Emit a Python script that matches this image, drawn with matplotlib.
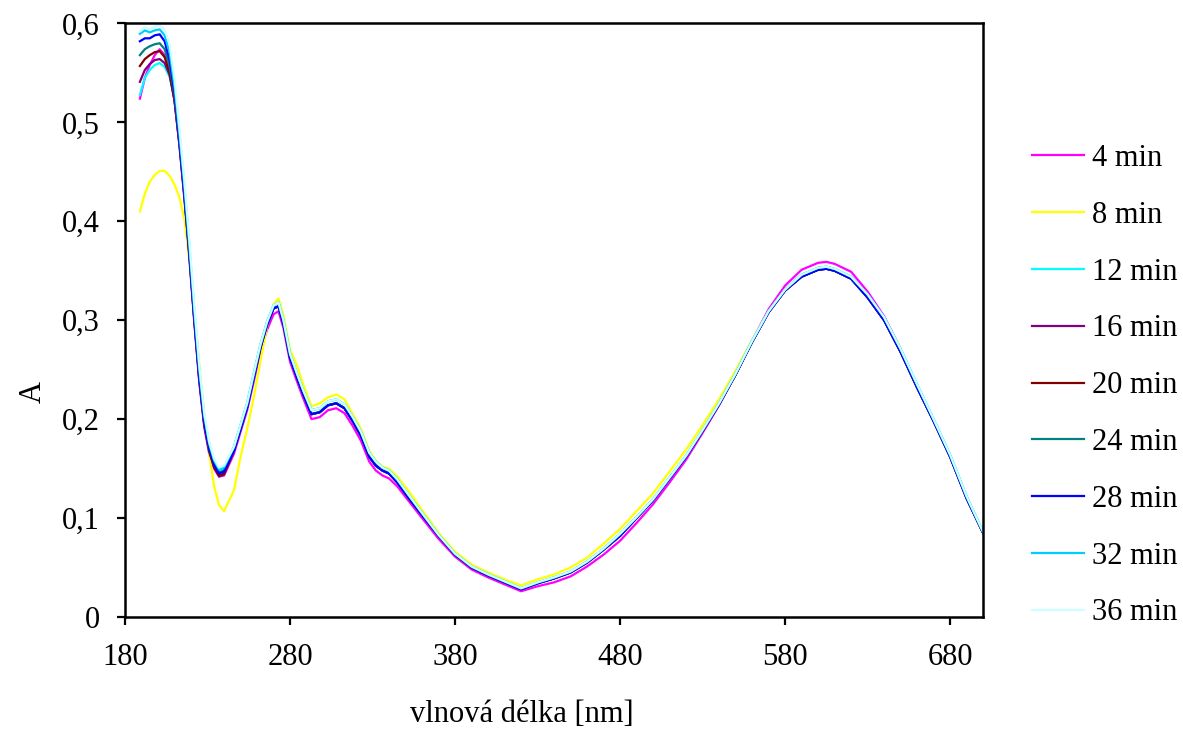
import matplotlib
matplotlib.use("Agg")
import matplotlib.pyplot as plt

plt.rcParams['font.family'] = ['Liberation Serif', 'DejaVu Serif']

# wavelength grid (nm): UV head where the series split, then the common tail
wl_head = [189, 192, 195, 198, 201, 204, 207, 210, 213, 216, 219, 222, 225,
           228, 231, 234, 237, 240]
wl_tail = [246, 250, 254, 258, 262, 266, 270, 273, 276, 280, 284, 288,
           293, 298, 303, 308, 313, 318, 323, 328, 332, 336, 340, 345, 352,
           360, 370, 380, 390, 400, 410, 420, 430, 440, 450, 460, 470, 480,
           490, 500, 510, 520, 530, 540, 550, 560, 570, 580, 590, 600, 605,
           610, 620, 630, 640, 650, 660, 670, 680, 690, 700]

# absorbance, UV part for each time
head_4 = [.524, .545, .558, .568, .574, .568, .552, .522, .476, .422, .362, .297, .237, .192, .165, .150, .142, .143]
head_8 = [.410, .428, .440, .447, .451, .451, .446, .437, .424, .402, .360, .310, .255, .205, .165, .132, .113, .107]
head_12 = [.528, .545, .553, .558, .560, .556, .546, .524, .482, .430, .370, .305, .245, .200, .172, .156, .148, .149]
head_16 = [.541, .553, .559, .563, .564, .560, .548, .522, .477, .424, .364, .299, .239, .194, .167, .151, .142, .144]
head_20 = [.557, .564, .568, .571, .572, .566, .550, .522, .478, .425, .365, .300, .240, .195, .168, .152, .143, .145]
head_24 = [.568, .574, .577, .579, .580, .574, .557, .527, .480, .427, .367, .302, .242, .197, .170, .155, .146, .148]
head_28 = [.582, .585, .585, .588, .589, .582, .563, .530, .481, .427, .367, .302, .242, .197, .170, .154, .145, .147]
head_32 = [.5895, .593, .591, .593, .594, .588, .571, .536, .488, .435, .375, .310, .250, .203, .175, .158, .149, .151]
head_36 = [.592, .596, .594, .597, .598, .594, .579, .544, .494, .440, .380, .315, .254, .206, .177, .160, .151, .153]

# rest of the spectrum (the curves nearly coincide here)
tail_magenta = [.165, .187, .209, .238, .268, .290, .306, .309, .292, .258, .239, .221,
                .200, .202, .209, .211, .206, .193, .178, .157, .148, .143, .140, .132, .117,
                .100, .079, .061, .048, .040, .033, .026, .031, .035, .041, .051, .063, .077,
                .095, .114, .136, .159, .186, .214, .245, .279, .311, .335, .351, .358, .359,
                .357, .349, .329, .304, .271, .234, .199, .163, .121, .085]
tail_yellow = [.128, .162, .190, .222, .258, .293, .316, .322, .305, .270, .255, .235,
               .213, .216, .222, .225, .220, .205, .190, .168, .158, .152, .150, .142, .127,
               .108, .085, .066, .053, .045, .038, .032, .038, .043, .050, .060, .074, .089,
               .107, .125, .147, .169, .194, .220, .249, .280, .309, .331, .345, .352, .353,
               .351, .343, .324, .301, .269, .233, .199, .163, .121, .085]
tail_dark = [.168, .190, .212, .242, .272, .295, .312, .314, .296, .262, .243, .225,
             .205, .207, .214, .216, .211, .198, .183, .162, .153, .148, .145, .136, .120,
             .103, .082, .063, .050, .042, .035, .028, .034, .039, .045, .055, .068, .082,
             .100, .118, .140, .162, .188, .215, .245, .278, .308, .330, .344, .351, .352,
             .350, .342, .323, .300, .268, .232, .198, .162, .120, .085]
tail_light = [.172, .194, .216, .246, .275, .298, .315, .318, .300, .266, .247, .229,
              .209, .211, .218, .220, .215, .202, .187, .166, .157, .151, .148, .139, .123,
              .105, .083, .064, .051, .043, .036, .029, .035, .040, .046, .056, .069, .084,
              .101, .119, .141, .163, .189, .216, .246, .279, .309, .331, .346, .353, .354,
              .352, .344, .326, .303, .271, .235, .200, .164, .122, .086]

labels = ['4 min', '8 min', '12 min', '16 min', '20 min', '24 min', '28 min', '32 min', '36 min']
colors = ['#FF00FF', '#FFFF00', '#00FFFF', '#800080', '#800000', '#008080',
          '#0000FF', '#00CCFF', '#CCFFFF']
heads = [head_4, head_8, head_12, head_16, head_20, head_24, head_28, head_32, head_36]
tails = [tail_magenta, tail_yellow, tail_light, tail_dark, tail_dark, tail_dark,
         tail_dark, tail_light, tail_light]

fig = plt.figure(figsize=(11.83, 7.31), dpi=100)
ax = fig.add_axes([0.1057, 0.156, 0.7253, 0.8119])

wl = wl_head + wl_tail
for lab, col, h, t in zip(labels, colors, heads, tails):
    ax.plot(wl, h + t, color=col, lw=1.6, label=lab)

ax.set_xlim(180, 700)
ax.set_ylim(0, 0.6)
ax.set_xticks([180, 280, 380, 480, 580, 680])
yt = [0, 0.1, 0.2, 0.3, 0.4, 0.5, 0.6]
ax.set_yticks(yt)
ax.set_yticklabels(['0'] + [('%.1f' % v).replace('.', ',') for v in yt[1:]])
ax.tick_params(axis='both', direction='out', length=6, width=1.6, labelsize=22,
               colors='black')
ax.tick_params(axis='x', pad=13)
ax.tick_params(axis='y', pad=12)
for s in ax.spines.values():
    s.set_linewidth(1.8)
    s.set_color('black')

fig.text(522 / 1183, 1.5 / 731, 'vlnová délka [nm]', fontsize=22,
         ha='center', va='bottom')
fig.text(33 / 1183, 1 - 392 / 731, 'A', fontsize=22, rotation=90,
         ha='center', va='center')

ax.legend(loc='upper left', bbox_to_anchor=(1032 / 1183, 1 - 144 / 731),
          bbox_transform=fig.transFigure, frameon=False, fontsize=22,
          handlelength=1.7, handletextpad=0.25, labelspacing=0.91,
          borderpad=0, borderaxespad=0)

fig.savefig('out.png', dpi=100)
